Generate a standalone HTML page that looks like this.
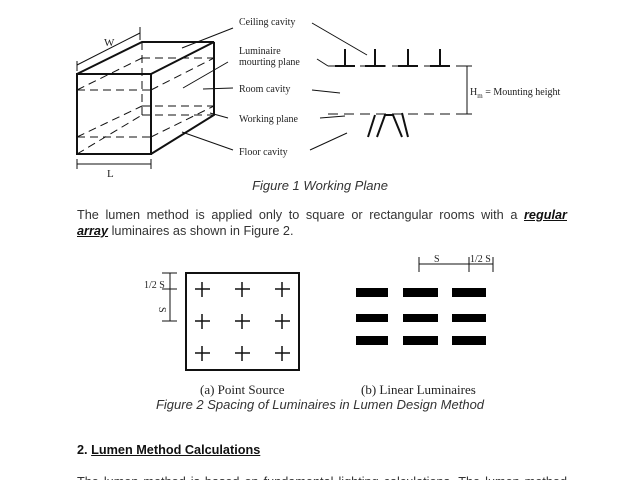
<!DOCTYPE html>
<html><head><meta charset="utf-8"><style>
html,body{margin:0;padding:0;background:#fff;width:640px;height:480px;overflow:hidden;position:relative}
svg{display:block;position:absolute;left:0;top:0}
.s{font-family:"Liberation Serif",serif;fill:#222}
.a{font-family:"Liberation Sans",sans-serif;fill:#333}
.p{position:absolute;left:77px;width:490px;font-family:"Liberation Sans",sans-serif;font-size:12.7px;color:#333;text-align:justify;line-height:16px;white-space:nowrap}
.j{text-align-last:justify}
b i{color:#111;text-decoration:underline}
</style></head><body>
<svg width="640" height="480" viewBox="0 0 640 480" xmlns="http://www.w3.org/2000/svg">
<g stroke="#111" fill="none">
<g stroke-width="2">
<rect x="77" y="74" width="74" height="80"/>
<polyline points="77,74 142,42 214,42 151,74"/>
<polyline points="214,42 214,115 151,154"/>
</g>
<g stroke-width="1" stroke-dasharray="8,5">
<line x1="142" y1="42" x2="142" y2="115"/>
<line x1="142" y1="115" x2="214" y2="115"/>
<line x1="77" y1="154" x2="142" y2="115"/>
<line x1="77" y1="90" x2="151" y2="90"/>
<line x1="142" y1="58" x2="214" y2="58"/>
<line x1="77" y1="90" x2="142" y2="58"/>
<line x1="151" y1="90" x2="214" y2="58"/>
<line x1="77" y1="137" x2="151" y2="137"/>
<line x1="142" y1="106" x2="214" y2="106"/>
<line x1="77" y1="137" x2="142" y2="106"/>
<line x1="151" y1="137" x2="214" y2="106"/>
</g>
<g stroke-width="1">
<line x1="77" y1="65" x2="140" y2="33"/>
<line x1="77" y1="61" x2="77" y2="71"/>
<line x1="140" y1="27" x2="140" y2="40"/>
<line x1="77" y1="164" x2="151" y2="164"/>
<line x1="77" y1="159" x2="77" y2="169"/>
<line x1="151" y1="159" x2="151" y2="169"/>
<line x1="233" y1="28" x2="182" y2="48"/>
<line x1="312" y1="23" x2="367" y2="55"/>
<line x1="228" y1="62" x2="183" y2="88"/>
<line x1="317" y1="59" x2="328" y2="66"/>
<line x1="233" y1="88" x2="203" y2="89"/>
<line x1="312" y1="90" x2="340" y2="93"/>
<line x1="228" y1="118" x2="210" y2="113"/>
<line x1="320" y1="118" x2="345" y2="116"/>
<line x1="233" y1="150" x2="182" y2="132"/>
<line x1="310" y1="150" x2="347" y2="133"/>
<line x1="467" y1="66" x2="467" y2="114"/>
<line x1="462" y1="66" x2="472" y2="66"/>
<line x1="462" y1="114" x2="472" y2="114"/>
</g>
<g stroke-width="1" stroke-dasharray="10,6">
<line x1="328" y1="66" x2="467" y2="66"/>
<line x1="328" y1="114" x2="467" y2="114"/>
</g>
<g stroke-width="2">
<path d="M345 49V66M335 66H355"/>
<path d="M375 49V66M365 66H385"/>
<path d="M408 49V66M398 66H418"/>
<path d="M440 49V66M430 66H450"/>
<path d="M375 115L368 137M377 137L385 115L393 115L402 137M402 113L408 137"/>
</g>
<rect x="186" y="273" width="113" height="97" stroke-width="2"/>
<g stroke-width="1.5">
<path d="M195 289h15M202 282v15M235 289h15M242 282v15M275 289h15M282 282v15"/>
<path d="M195 321h15M202 314v15M235 321h15M242 314v15M275 321h15M282 314v15"/>
<path d="M195 353h15M202 346v15M235 353h15M242 346v15M275 353h15M282 346v15"/>
</g>
<g stroke-width="1">
<line x1="170" y1="273" x2="170" y2="321"/>
<line x1="162" y1="273" x2="177" y2="273"/>
<line x1="162" y1="289" x2="177" y2="289"/>
<line x1="162" y1="321" x2="177" y2="321"/>
<line x1="419" y1="264" x2="493" y2="264"/>
<line x1="419" y1="257" x2="419" y2="272"/>
<line x1="469" y1="257" x2="469" y2="272"/>
<line x1="493" y1="257" x2="493" y2="272"/>
</g>
</g>
<g fill="#000">
<rect x="356" y="288" width="32" height="9"/><rect x="403" y="288" width="35" height="9"/><rect x="452" y="288" width="34" height="9"/>
<rect x="356" y="314" width="32" height="8"/><rect x="403" y="314" width="35" height="8"/><rect x="452" y="314" width="34" height="8"/>
<rect x="356" y="336" width="32" height="9"/><rect x="403" y="336" width="35" height="9"/><rect x="452" y="336" width="34" height="9"/>
</g>
<g class="s" font-size="10">
<text x="104" y="46" font-size="11">W</text>
<text x="107" y="177" font-size="11">L</text>
<text x="239" y="25">Ceiling cavity</text>
<text x="239" y="54">Luminaire</text>
<text x="239" y="65">mourting plane</text>
<text x="239" y="92">Room cavity</text>
<text x="239" y="122">Working plane</text>
<text x="239" y="155">Floor cavity</text>
<text x="470" y="95">H<tspan font-size="7" dy="3">m</tspan><tspan dy="-3"> = Mounting height</tspan></text>
<text x="144" y="288">1/2 S</text>
<text x="434" y="262">S</text>
<text x="470" y="262">1/2 S</text>
<text transform="translate(159,307) rotate(90)">S</text>
<text x="200" y="394" font-size="13">(a) Point Source</text>
<text x="361" y="394" font-size="13">(b) Linear Luminaires</text>
</g>
<g class="a" font-size="13">
<text x="320" y="190" text-anchor="middle" font-style="italic">Figure 1 Working Plane</text>
<text x="320" y="409" text-anchor="middle" font-style="italic">Figure 2 Spacing of Luminaires in Lumen Design Method</text>
</g>
</svg>
<div class="p j" style="top:207px">The lumen method is applied only to square or rectangular rooms with a <b><i>regular</i></b></div>
<div class="p" style="top:223px"><b><i>array</i></b> luminaires as shown in Figure 2.</div>
<div class="p" style="top:442px;font-weight:bold;color:#111">2. <u>Lumen Method Calculations</u></div>
<div class="p j" style="top:474px">The lumen method is based on fundamental lighting calculations. The lumen method</div>
</body></html>
